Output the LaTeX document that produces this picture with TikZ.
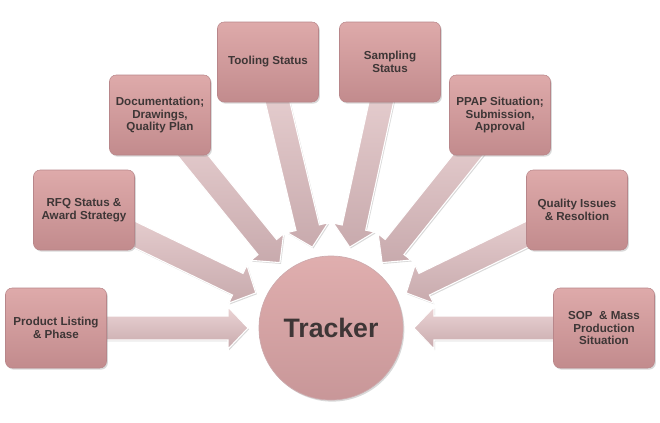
\documentclass[tikz,border=0pt]{standalone}
\usepackage{fontspec}
\setsansfont{Liberation Sans}
\usepackage{xcolor}
\usetikzlibrary{calc,shadows}
\definecolor{boxtop}{HTML}{DEAAAA}
\definecolor{boxbot}{HTML}{C28B8D}
\definecolor{boxline}{HTML}{B8868A}
\definecolor{arrtop}{HTML}{EBD4D5}
\definecolor{arrbot}{HTML}{C8AAAD}
\definecolor{txt}{HTML}{3E3636}
\pgfdeclarelayer{back}
\pgfsetlayers{back,main}

\begin{document}
\begin{tikzpicture}[
  x=0.75pt, y=-0.75pt,
  topic/.style={rectangle, rounded corners=5pt, draw=boxline, line width=0.4pt,
    top color=boxtop, bottom color=boxbot, minimum width=75.75pt, minimum height=60pt,
    align=center, text=txt, inner sep=2pt,
    font=\sffamily\bfseries\fontsize{8.7}{9.6}\selectfont,
    drop shadow={opacity=0.3, shadow xshift=1pt, shadow yshift=-1.2pt}},
  hub/.style={circle, draw=boxline!70, line width=0.5pt,
    top color=boxtop!95!white, bottom color=boxbot!90!white, minimum size=108pt,
    text=txt, font=\sffamily\bfseries\fontsize{20}{24}\selectfont,
    drop shadow={opacity=0.3, shadow xshift=1pt, shadow yshift=-1.2pt}},
  feed/.style={draw=white, line width=0.8pt, top color=arrtop, bottom color=arrbot,
    drop shadow={opacity=0.3, shadow xshift=0.8pt, shadow yshift=-1pt}}
]
\useasboundingbox (0,0) rectangle (660,422);
\node[hub] (trk) at (331,328) {Tracker};
\node[topic] (P1) at (56,328) {Product Listing\\\& Phase};
\node[topic] (P2) at (84,210) {RFQ Status \&\\Award Strategy};
\node[topic] (P3) at (160,115) {Documentation;\\Drawings,\\Quality Plan};
\node[topic] (P4) at (268,62) {Tooling Status};
\node[topic] (P5) at (390,62) {Sampling\\Status};
\node[topic] (P6) at (500,115) {PPAP Situation;\\Submission,\\Approval};
\node[topic] (P7) at (577,210) {Quality Issues\\\& Resoltion};
\node[topic] (P8) at (604,328) {SOP\ \ \& Mass\\Production\\Situation};
\begin{pgfonlayer}{back}
\foreach \s/\a [count=\i] in {P1/180,P2/205,P3/232,P4/257,P5/283,P6/308,P7/335,P8/360}{
  \coordinate (tip\i) at ($(trk.center)+(\a:83)$);
  \coordinate (neck\i) at ($(tip\i)!15pt!(\s.center)$);
  \draw[feed] ($(\s.center)!9pt!90:(tip\i)$) -- ($(neck\i)!9pt!90:(tip\i)$)
    -- ($(neck\i)!15.75pt!90:(tip\i)$) -- (tip\i)
    -- ($(neck\i)!15.75pt!-90:(tip\i)$) -- ($(neck\i)!9pt!-90:(tip\i)$)
    -- ($(\s.center)!9pt!-90:(tip\i)$) -- cycle;
}
\end{pgfonlayer}
\end{tikzpicture}
\end{document}
